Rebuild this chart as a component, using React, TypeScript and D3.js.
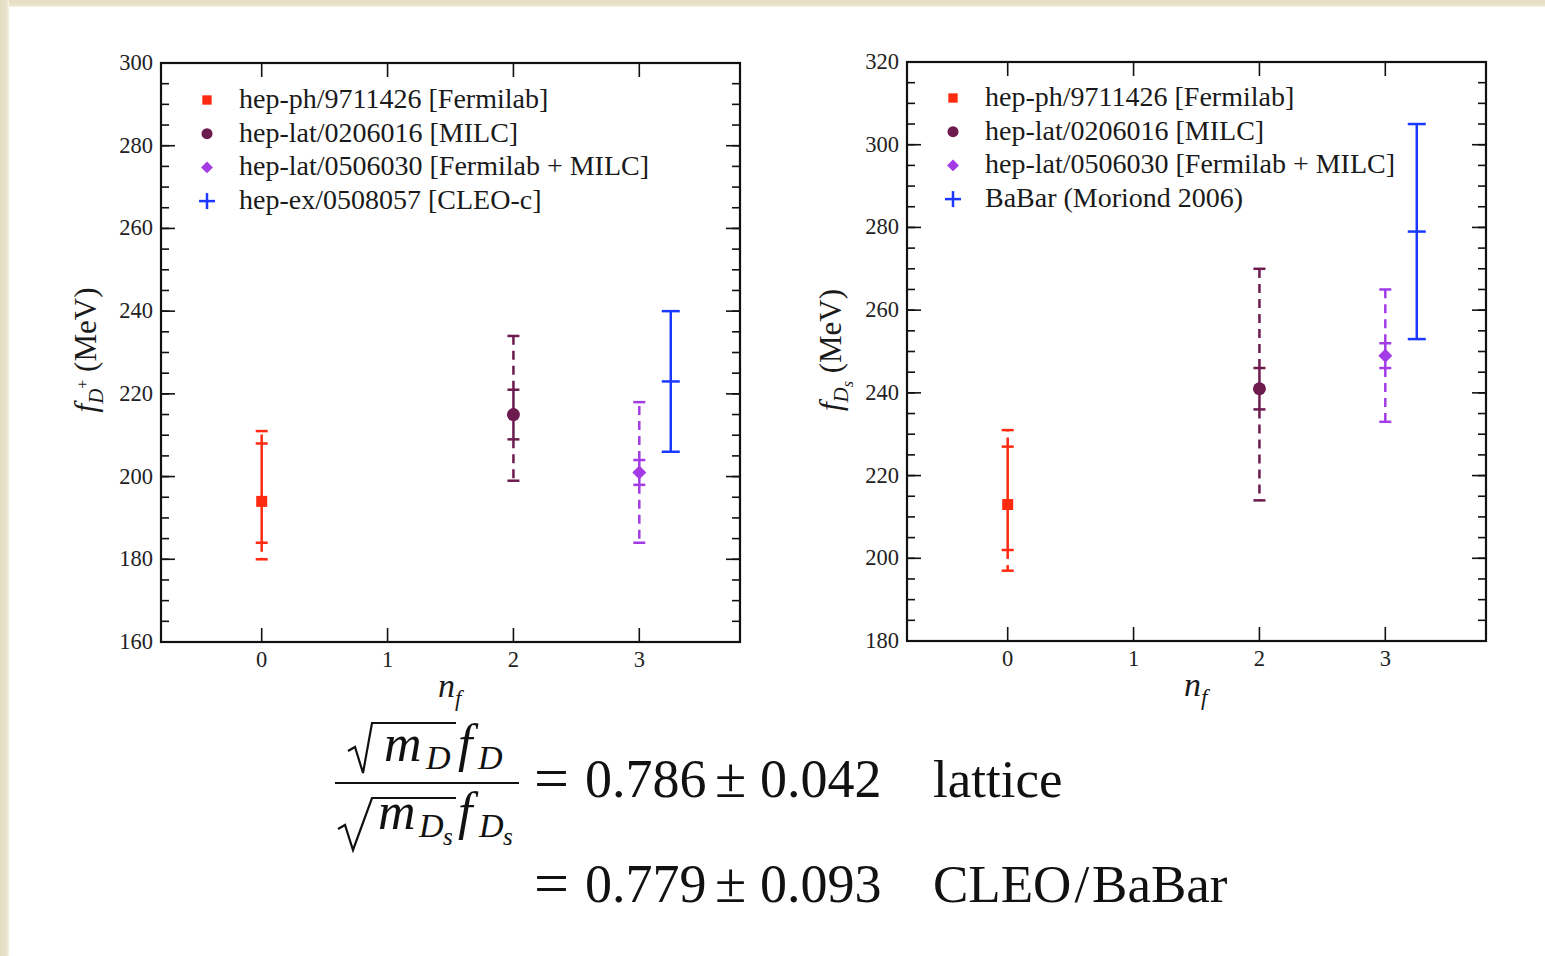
import React from "react";
import * as d3 from "d3";

// ---------- data ----------
const nfTicks = [0, 1, 2, 3];
const seriesNf = [0, 2, 3, 3.25];
const seriesColors = ["#ff2a10", "#6d1a4f", "#a33ce6", "#1a38ff"];
const seriesShapes = ["square", "circle", "diamond", "plus"];

const legendLeft = [
  "hep-ph/9711426 [Fermilab]",
  "hep-lat/0206016 [MILC]",
  "hep-lat/0506030 [Fermilab + MILC]",
  "hep-ex/0508057 [CLEO-c]",
];
const legendRight = [
  "hep-ph/9711426 [Fermilab]",
  "hep-lat/0206016 [MILC]",
  "hep-lat/0506030 [Fermilab + MILC]",
  "BaBar (Moriond 2006)",
];

const fDCentral = [194, 215, 201, 223];
const fDStatLow = [184, 209, 198, null];
const fDStatHigh = [208, 221, 204, null];
const fDTotLow = [180, 199, 184, 206];
const fDTotHigh = [211, 234, 218, 240];

const fDsCentral = [213, 241, 249, 279];
const fDsStatLow = [202, 236, 246, null];
const fDsStatHigh = [227, 246, 252, null];
const fDsTotLow = [197, 214, 233, 253];
const fDsTotHigh = [231, 270, 265, 305];

const leftYTicks = [160, 180, 200, 220, 240, 260, 280, 300];
const rightYTicks = [180, 200, 220, 240, 260, 280, 300, 320];

const SERIF = "'Liberation Serif', 'DejaVu Serif', serif";

type Series = {
  central: number[];
  statLow: (number | null)[];
  statHigh: (number | null)[];
  totLow: number[];
  totHigh: number[];
};

function Marker({ shape, color, cx, cy, s = 1 }: any) {
  if (shape === "square")
    return <rect x={cx - 5.5 * s} y={cy - 5.5 * s} width={11 * s} height={11 * s} fill={color} />;
  if (shape === "circle") return <circle cx={cx} cy={cy} r={6.5 * s} fill={color} />;
  if (shape === "diamond")
    return (
      <path
        d={`M${cx},${cy - 7 * s}L${cx + 7 * s},${cy}L${cx},${cy + 7 * s}L${cx - 7 * s},${cy}Z`}
        fill={color}
      />
    );
  return (
    <g stroke={color} strokeWidth={2.5}>
      <line x1={cx - 8 * s} x2={cx + 8 * s} y1={cy} y2={cy} />
      <line x1={cx} x2={cx} y1={cy - 8 * s} y2={cy + 8 * s} />
    </g>
  );
}

function Chart({
  left,
  top,
  yDomain,
  yTicks,
  data,
  legend,
  legendDy,
  yLabel,
}: {
  left: number;
  top: number;
  yDomain: [number, number];
  yTicks: number[];
  data: Series;
  legend: string[];
  legendDy: number;
  yLabel: React.ReactNode;
}) {
  const W = 579;
  const H = 579;
  const x = d3.scaleLinear().domain([-0.8, 3.8]).range([0, W]);
  const y = d3.scaleLinear().domain(yDomain).range([H, 0]);
  const minor = d3.range(yDomain[0], yDomain[1] + 0.01, 5);
  const major = 14;
  const minorLen = 8;

  return (
    <g transform={`translate(${left},${top})`}>
      {minor.map((v) => (
        <g key={"m" + v} stroke="#111" strokeWidth={1.6}>
          <line x1={0} x2={minorLen} y1={y(v)} y2={y(v)} />
          <line x1={W} x2={W - minorLen} y1={y(v)} y2={y(v)} />
        </g>
      ))}
      {yTicks.map((v) => (
        <g key={"M" + v}>
          <line x1={0} x2={major} y1={y(v)} y2={y(v)} stroke="#111" strokeWidth={1.6} />
          <line x1={W} x2={W - major} y1={y(v)} y2={y(v)} stroke="#111" strokeWidth={1.6} />
          <text
            x={-8}
            y={y(v) + 7}
            textAnchor="end"
            fontFamily={SERIF}
            fontSize={22.5}
            fill="#222"
          >
            {v}
          </text>
        </g>
      ))}
      {nfTicks.map((v) => (
        <g key={"x" + v}>
          <line x1={x(v)} x2={x(v)} y1={H} y2={H - major} stroke="#111" strokeWidth={1.6} />
          <line x1={x(v)} x2={x(v)} y1={0} y2={major} stroke="#111" strokeWidth={1.6} />
          <text x={x(v)} y={H + 25} textAnchor="middle" fontFamily={SERIF} fontSize={22.5} fill="#222">
            {v}
          </text>
        </g>
      ))}
      <rect x={0} y={0} width={W} height={H} fill="none" stroke="#111" strokeWidth={2.2} />

      {seriesNf.map((nf, i) => {
        const cx = x(nf);
        const color = seriesColors[i];
        const sl = data.statLow[i];
        const sh = data.statHigh[i];
        const cap = (v: number, w: number) => (
          <line x1={cx - w / 2} x2={cx + w / 2} y1={y(v)} y2={y(v)} stroke={color} strokeWidth={2.5} />
        );
        if (sl != null && sh != null) {
          return (
            <g key={"s" + i}>
              <line x1={cx} x2={cx} y1={y(sl)} y2={y(sh)} stroke={color} strokeWidth={2.5} />
              <line
                x1={cx}
                x2={cx}
                y1={y(sh)}
                y2={y(data.totHigh[i])}
                stroke={color}
                strokeWidth={2.5}
                strokeDasharray="9 6"
              />
              <line
                x1={cx}
                x2={cx}
                y1={y(sl)}
                y2={y(data.totLow[i])}
                stroke={color}
                strokeWidth={2.5}
                strokeDasharray="9 6"
              />
              {cap(sl, 12)}
              {cap(sh, 12)}
              {cap(data.totLow[i], 12)}
              {cap(data.totHigh[i], 12)}
              <Marker shape={seriesShapes[i]} color={color} cx={cx} cy={y(data.central[i])} />
            </g>
          );
        }
        return (
          <g key={"s" + i}>
            <line
              x1={cx}
              x2={cx}
              y1={y(data.totLow[i])}
              y2={y(data.totHigh[i])}
              stroke={color}
              strokeWidth={2.5}
            />
            {cap(data.totLow[i], 18)}
            {cap(data.totHigh[i], 18)}
            {cap(data.central[i], 18)}
          </g>
        );
      })}

      {legend.map((t, i) => {
        const cy = 37 + legendDy + i * 33.7;
        return (
          <g key={"l" + i}>
            <Marker
              shape={seriesShapes[i]}
              color={seriesColors[i]}
              cx={46}
              cy={cy}
              s={seriesShapes[i] === "plus" ? 1 : 0.85}
            />
            <text x={78} y={cy + 8} fontFamily={SERIF} fontSize={28} fill="#1a1a1a">
              {t}
            </text>
          </g>
        );
      })}

      <text x={x(1.4)} y={H + 55} fontFamily={SERIF} fontSize={34} fontStyle="italic" fill="#1a1a1a">
        n
        <tspan fontSize={23} dy={9}>
          f
        </tspan>
      </text>
      {yLabel}
    </g>
  );
}

function Formula() {
  const fs = 52;
  const it = { fontFamily: SERIF, fontStyle: "italic", fill: "#111" } as any;
  const rm = { fontFamily: SERIF, fill: "#111" } as any;
  return (
    <g>
      {/* numerator */}
      <path d="M348,751 L355,747 L363,773 L372,723 L456,723" fill="none" stroke="#111" strokeWidth={2.2} />
      <text x={384} y={761} fontSize={fs} {...it}>m</text>
      <text x={426} y={769} fontSize={34} {...it}>D</text>
      <text x={458} y={761} fontSize={fs} {...it}>f</text>
      <text x={478} y={769} fontSize={34} {...it}>D</text>
      {/* fraction bar */}
      <line x1={335} x2={519} y1={783} y2={783} stroke="#111" strokeWidth={2.2} />
      {/* denominator */}
      <path d="M338,829 L345,825 L353,850 L372,798 L456,798" fill="none" stroke="#111" strokeWidth={2.2} />
      <text x={378} y={829} fontSize={fs} {...it}>m</text>
      <text x={419} y={837} fontSize={34} {...it}>D</text>
      <text x={443} y={845} fontSize={25} {...it}>s</text>
      <text x={458} y={829} fontSize={fs} {...it}>f</text>
      <text x={479} y={837} fontSize={34} {...it}>D</text>
      <text x={503} y={845} fontSize={25} {...it}>s</text>

      {/* line 1 */}
      <text x={534} y={799} fontSize={62} {...rm}>=</text>
      <text x={585} y={797} fontSize={54} {...rm}>0.786</text>
      <text x={715} y={797} fontSize={57} {...rm}>±</text>
      <text x={760} y={797} fontSize={54} {...rm}>0.042</text>
      <text x={933} y={797} fontSize={53} {...rm}>lattice</text>

      {/* line 2 */}
      <text x={534} y={904} fontSize={62} {...rm}>=</text>
      <text x={585} y={902} fontSize={54} {...rm}>0.779</text>
      <text x={715} y={902} fontSize={57} {...rm}>±</text>
      <text x={760} y={902} fontSize={54} {...rm}>0.093</text>
      <text x={933} y={902} fontSize={53} {...rm}>
        CLEO<tspan dx={3}>/</tspan>
        <tspan dx={3}>BaBar</tspan>
      </text>
    </g>
  );
}

export default function App() {
  const leftData: Series = {
    central: fDCentral,
    statLow: fDStatLow,
    statHigh: fDStatHigh,
    totLow: fDTotLow,
    totHigh: fDTotHigh,
  };
  const rightData: Series = {
    central: fDsCentral,
    statLow: fDsStatLow,
    statHigh: fDsStatHigh,
    totLow: fDsTotLow,
    totHigh: fDsTotHigh,
  };
  const yLabelLeft = (
    <text
      transform="translate(-65,287) rotate(-90)"
      textAnchor="middle"
      fontFamily={SERIF}
      fontSize={31}
      fill="#1a1a1a"
    >
      <tspan fontStyle="italic">f</tspan>
      <tspan fontStyle="italic" fontSize={21} dy={7}>D</tspan>
      <tspan fontSize={16} dy={-15}>+</tspan>
      <tspan dy={8}> (MeV)</tspan>
    </text>
  );
  const yLabelRight = (
    <text
      transform="translate(-66,288) rotate(-90)"
      textAnchor="middle"
      fontFamily={SERIF}
      fontSize={31}
      fill="#1a1a1a"
    >
      <tspan fontStyle="italic">f</tspan>
      <tspan fontStyle="italic" fontSize={21} dy={7}>D</tspan>
      <tspan fontStyle="italic" fontSize={16} dy={5}>s</tspan>
      <tspan dy={-12}> (MeV)</tspan>
    </text>
  );
  return (
    <svg
      width={1545}
      height={956}
      style={{ position: "fixed", left: 0, top: 0, display: "block", background: "#fff" }}
    >
      <defs>
        <linearGradient id="lshadow" x1="0" x2="1" y1="0" y2="0">
          <stop offset="0" stopColor="#e6dec2" />
          <stop offset="0.7" stopColor="#e9e2c9" />
          <stop offset="1" stopColor="#f6f3ea" />
        </linearGradient>
        <linearGradient id="tshadow" x1="0" x2="0" y1="0" y2="1">
          <stop offset="0" stopColor="#e6dec2" />
          <stop offset="0.7" stopColor="#e9e2c9" />
          <stop offset="1" stopColor="#f6f3ea" />
        </linearGradient>
      </defs>
      <rect x={0} y={0} width={1545} height={956} fill="#fff" />
      <rect x={0} y={0} width={1545} height={7} fill="url(#tshadow)" />
      <rect x={0} y={0} width={9} height={956} fill="url(#lshadow)" />
      <Chart
        left={161}
        top={63}
        yDomain={[160, 300]}
        yTicks={leftYTicks}
        data={leftData}
        legend={legendLeft}
        legendDy={0}
        yLabel={yLabelLeft}
      />
      <Chart
        left={907}
        top={62}
        yDomain={[180, 320]}
        yTicks={rightYTicks}
        data={rightData}
        legend={legendRight}
        legendDy={-1}
        yLabel={yLabelRight}
      />
      <Formula />
    </svg>
  );
}
